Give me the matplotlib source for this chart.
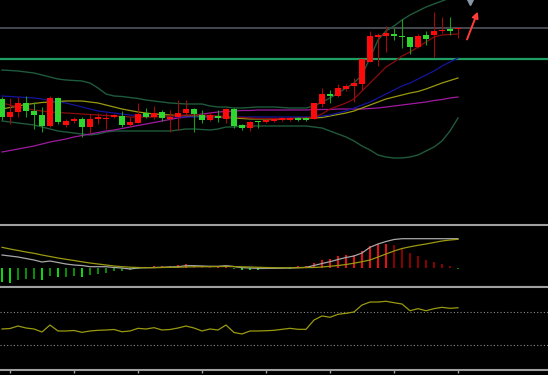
import numpy as np
import matplotlib
matplotlib.use("Agg")
import matplotlib.pyplot as plt
from matplotlib.patches import Rectangle

# ---- daily candles (price units) ----
opens = [15.1, 13.3, 13.8, 14.7, 13.9, 13.5, 12.4, 15.2, 12.5, 12.9,
         13.1, 12.3, 13.1, 13.1, 13.3, 13.4, 12.5, 12.7, 13.7, 13.3,
         13.8, 13.1, 13.3, 13.7, 14.1, 13.5, 13.0, 13.4, 13.1, 14.1,
         12.5, 12.2, 12.9, 12.8, 12.9, 13.0, 13.0, 13.2, 13.2, 13.1,
         14.6, 15.6, 15.4, 16.1, 16.4, 16.6, 18.8, 21.3, 21.4, 21.6,
         21.4, 21.3, 20.3, 21.5, 21.5, 21.9, 22.1, 22.1]
highs = [15.3, 15.2, 15.3, 15.4, 14.8, 14.3, 15.4, 15.3, 13.1, 13.3,
         13.3, 13.6, 13.7, 13.7, 13.6, 13.9, 13.3, 14.7, 14.2, 14.4,
         14.0, 14.0, 15.0, 15.0, 14.2, 14.0, 13.8, 14.0, 14.2, 14.2,
         12.6, 12.9, 12.9, 13.1, 13.2, 13.3, 13.3, 13.3, 13.3, 14.7,
         16.2, 16.0, 16.6, 16.6, 17.2, 19.1, 21.9, 21.7, 22.4, 22.2,
         23.1, 21.3, 21.6, 21.9, 23.8, 23.3, 23.3, 22.2]
lows = [13.0, 12.6, 13.3, 13.3, 12.1, 11.8, 12.3, 12.6, 12.3, 12.7,
        11.3, 11.7, 12.6, 12.1, 13.2, 12.3, 12.4, 12.7, 13.2, 13.1,
        12.9, 11.8, 12.0, 13.5, 11.8, 12.7, 12.9, 12.8, 12.7, 12.2,
        12.0, 11.9, 12.2, 12.7, 12.8, 12.9, 12.9, 12.9, 12.9, 13.1,
        14.3, 14.7, 15.3, 15.9, 14.8, 16.0, 18.8, 18.4, 19.8, 21.0,
        20.2, 19.6, 20.2, 20.5, 19.3, 21.7, 21.5, 21.2]
closes = [13.3, 13.8, 14.7, 13.9, 13.5, 12.4, 15.2, 12.8, 12.9, 13.1,
          12.3, 13.1, 13.3, 13.2, 13.5, 12.5, 12.8, 13.6, 13.3, 13.7,
          13.2, 13.3, 13.7, 14.1, 13.6, 13.0, 13.5, 13.2, 14.1, 12.4,
          12.2, 12.8, 12.8, 13.0, 13.1, 13.2, 13.2, 13.0, 13.0, 14.7,
          15.6, 15.4, 16.2, 16.4, 16.7, 19.1, 21.4, 21.5, 21.7, 21.4,
          21.3, 20.3, 21.4, 21.1, 21.9, 22.0, 21.9, 22.2]

# ---- overlays on the price panel ----
boll_upper = [18.0, 17.95, 17.9, 17.8, 17.7, 17.5, 17.3, 17.1, 17.0, 16.95,
              16.9, 16.7, 16.2, 15.6, 15.4, 15.35, 15.25, 15.15, 15.0, 14.9,
              14.8, 14.7, 14.65, 14.6, 14.6, 14.6, 14.4, 14.3, 14.3, 14.2,
              14.2, 14.25, 14.3, 14.3, 14.3, 14.25, 14.2, 14.2, 14.2, 14.4,
              14.8, 15.2, 15.7, 16.2, 16.7, 17.5, 19.2, 21.0, 21.9, 22.4,
              23.0, 23.5, 23.9, 24.3, 24.6, 24.9, 25.2, 25.5]
boll_lower = [12.9, 12.8, 12.7, 12.6, 12.5, 12.3, 12.1, 11.9, 11.8, 11.7,
              11.6, 11.5, 11.6, 11.8, 11.9, 11.9, 11.9, 11.9, 11.9, 11.9,
              11.9, 11.9, 12.0, 12.1, 12.1, 12.05, 12.0, 12.1, 12.3, 12.3,
              12.4, 12.4, 12.4, 12.4, 12.4, 12.4, 12.4, 12.4, 12.4, 12.3,
              12.2, 11.9, 11.6, 11.3, 10.9, 10.4, 10.0, 9.5, 9.3, 9.2,
              9.2, 9.3, 9.5, 9.9, 10.3, 10.9, 11.9, 13.2]
ma5 = [14.7, 14.5, 14.3, 14.15, 14.0, 13.9, 13.8, 13.75, 13.7, 13.65,
       13.6, 13.55, 13.5, 13.45, 13.4, 13.35, 13.3, 13.3, 13.3, 13.3,
       13.35, 13.4, 13.45, 13.5, 13.5, 13.5, 13.45, 13.4, 13.35, 13.3,
       13.25, 13.2, 13.15, 13.15, 13.15, 13.15, 13.15, 13.15, 13.2, 13.3,
       13.6, 14.1, 14.4, 14.7, 15.1, 15.9, 16.7, 17.5, 18.3, 18.8,
       19.4, 19.8, 20.3, 20.8, 21.3, 21.5, 21.55, 21.6]
ma10 = [15.4, 15.35, 15.3, 15.25, 15.2, 15.1, 14.95, 14.8, 14.7, 14.5,
        14.3, 14.1, 13.9, 13.8, 13.7, 13.6, 13.5, 13.45, 13.4, 13.4,
        13.35, 13.3, 13.3, 13.3, 13.3, 13.3, 13.3, 13.3, 13.3, 13.3,
        13.3, 13.3, 13.3, 13.3, 13.3, 13.3, 13.3, 13.3, 13.3, 13.3,
        13.4, 13.5, 13.7, 13.9, 14.2, 14.5, 14.8, 15.2, 15.6, 16.0,
        16.4, 16.7, 17.1, 17.5, 17.9, 18.4, 18.8, 19.2]
ma20 = [14.1, 14.25, 14.4, 14.55, 14.65, 14.75, 14.8, 14.85, 14.9, 14.9,
        14.9, 14.8, 14.7, 14.5, 14.3, 14.1, 13.95, 13.8, 13.7, 13.6,
        13.55, 13.5, 13.45, 13.4, 13.4, 13.35, 13.3, 13.3, 13.25, 13.2,
        13.15, 13.1, 13.1, 13.1, 13.1, 13.1, 13.15, 13.2, 13.2, 13.2,
        13.25, 13.4, 13.55, 13.7, 13.9, 14.2, 14.5, 14.8, 15.1, 15.3,
        15.5, 15.7, 15.85, 16.1, 16.4, 16.7, 16.95, 17.2]
ma60 = [9.8, 9.95, 10.1, 10.25, 10.4, 10.6, 10.8, 10.95, 11.1, 11.3,
        11.45, 11.6, 11.75, 11.9, 12.0, 12.15, 12.3, 12.45, 12.6, 12.75,
        12.9, 13.05, 13.2, 13.3, 13.45, 13.6, 13.7, 13.8, 13.85, 13.9,
        13.95, 13.95, 14.0, 14.0, 14.0, 14.0, 14.0, 14.0, 14.0, 14.05,
        14.05, 14.05, 14.1, 14.1, 14.1, 14.1, 14.15, 14.2, 14.3, 14.4,
        14.5, 14.6, 14.7, 14.8, 14.95, 15.05, 15.2, 15.3]

resistance = 22.2
support = 19.1

# ---- MACD panel ----
macd_hist = [-0.140, -0.150, -0.117, -0.110, -0.107, -0.123, -0.080, -0.090, -0.088, -0.083,
             -0.093, -0.073, -0.057, -0.047, -0.033, -0.032, -0.023, -0.010, 0.010, 0.020,
             0.020, 0.020, 0.030, 0.040, 0.030, 0.020, 0.010, 0.010, 0.020, -0.005,
             -0.020, -0.020, -0.020, -0.010, -0.010, -0.005, -0.005, 0.020, 0.020, 0.050,
             0.077, 0.093, 0.117, 0.127, 0.128, 0.167, 0.217, 0.237, 0.243, 0.227,
             0.193, 0.150, 0.117, 0.077, 0.060, 0.037, 0.020, -0.005]
dif = [0.130, 0.120, 0.110, 0.095, 0.080, 0.060, 0.070, 0.055, 0.040, 0.030,
       0.025, 0.013, 0.013, 0.013, 0.005, 0.000, -0.010, 0.000, 0.003, 0.005,
       0.007, 0.010, 0.013, 0.023, 0.023, 0.020, 0.017, 0.017, 0.023, 0.015,
       0.003, 0.000, -0.003, -0.003, -0.003, -0.002, 0.000, 0.003, 0.007, 0.025,
       0.045, 0.063, 0.085, 0.105, 0.120, 0.150, 0.207, 0.240, 0.265, 0.285,
       0.293, 0.293, 0.293, 0.293, 0.293, 0.293, 0.293, 0.293]
dea = [0.207, 0.190, 0.175, 0.160, 0.147, 0.130, 0.115, 0.100, 0.087, 0.075,
       0.062, 0.050, 0.040, 0.030, 0.020, 0.013, 0.008, 0.005, 0.003, 0.003,
       0.005, 0.007, 0.008, 0.010, 0.012, 0.013, 0.013, 0.014, 0.015, 0.014,
       0.012, 0.010, 0.007, 0.005, 0.003, 0.002, 0.002, 0.003, 0.004, 0.005,
       0.010, 0.017, 0.025, 0.035, 0.048, 0.063, 0.080, 0.110, 0.140, 0.170,
       0.195, 0.212, 0.227, 0.240, 0.255, 0.270, 0.280, 0.287]

# ---- RSI panel ----
rsi = [49.4, 50.0, 53.0, 50.6, 49.4, 45.8, 54.2, 47.0, 47.0, 47.6,
       45.4, 47.0, 47.8, 48.2, 48.8, 46.1, 47.0, 50.2, 49.4, 51.0,
       48.2, 48.8, 50.6, 53.0, 50.6, 47.0, 49.4, 48.2, 54.2, 45.2,
       43.4, 47.0, 47.0, 47.3, 47.8, 49.0, 50.2, 49.0, 49.0, 60.2,
       65.1, 63.5, 67.1, 68.3, 69.9, 78.3, 81.9, 81.9, 82.8, 81.1,
       79.5, 71.4, 73.9, 71.4, 73.9, 75.5, 74.3, 75.0]
rsi_levels = [70, 30]

n = len(closes)
x = np.arange(n)
xlim = (-0.25, 68.25)

fig = plt.figure(figsize=(5.48, 3.75), dpi=100, facecolor="black")
ax = fig.add_axes([0, 0.4, 1, 0.6])
ax_macd = fig.add_axes([0, 1 - 287 / 375, 1, 62 / 375])
ax_rsi = fig.add_axes([0, 1 - 370 / 375, 1, 83 / 375])

for a in (ax, ax_macd, ax_rsi):
    a.set_facecolor("black")
    a.set_xlim(*xlim)
    a.set_xticks([])
    a.set_yticks([])
    for s in a.spines.values():
        s.set_visible(False)

# price panel
ax.set_ylim(2.5, 25)
ax.axhline(resistance, color="#4b4e56", lw=1.3, zorder=1)
ax.axhline(support, color="#1f9e62", lw=1.6, zorder=1)
ax.plot(x, boll_upper, color="#1f5a3c", lw=1.0, zorder=2)
ax.plot(x, boll_lower, color="#1f5a3c", lw=1.0, zorder=2)
ax.plot(x, ma60, color="#a01aa0", lw=0.9, zorder=2)
ax.plot(x, ma20, color="#9a9a10", lw=0.9, zorder=2)
ax.plot(x, ma10, color="#1414a0", lw=0.9, zorder=2)
ax.plot(x, ma5, color="#8c0c0c", lw=0.9, zorder=2)

body_w = 0.75
for i in range(n):
    up = closes[i] >= opens[i]
    body_c = "#ff0a0a" if up else "#2fd62f"
    wick_c = "#a00a0a" if up else "#1c9c1c"
    ax.vlines(x[i], lows[i], highs[i], color=wick_c, lw=0.8, zorder=3)
    lo = min(opens[i], closes[i])
    h = max(abs(closes[i] - opens[i]), 0.1)
    ax.add_patch(Rectangle((x[i] - body_w / 2, lo), body_w, h,
                           facecolor=body_c, edgecolor="none", zorder=4))

# signal arrow and marker at the top right
ax.annotate("", xy=(59.6, 24.1), xytext=(58.0, 20.8),
            arrowprops=dict(arrowstyle="-|>", color="#ff3c3c", lw=1.4,
                            mutation_scale=9), zorder=5)
ax.plot(58.5, 24.95, marker="v", color="#8a96a8", ms=6, zorder=5)

# MACD panel
ax_macd.set_ylim(-0.19, 0.43)
for side in ("top", "bottom"):
    ax_macd.spines[side].set_visible(True)
    ax_macd.spines[side].set_color("#a0a0a0")
    ax_macd.spines[side].set_linewidth(1.5)
colors = []
for i, h in enumerate(macd_hist):
    growing = i == 0 or abs(h) >= abs(macd_hist[i - 1])
    if h >= 0:
        colors.append("#ff1010" if growing else "#960000")
    else:
        colors.append("#10ee10" if growing else "#0a9a0a")
ax_macd.vlines(x, 0, macd_hist, colors=colors, lw=1.3)
ax_macd.plot(x, dif, color="#a8a8a8", lw=0.9)
ax_macd.plot(x, dea, color="#9a9a10", lw=0.9)

# RSI panel
ax_rsi.set_ylim(0, 100)
for side in ("top", "bottom"):
    ax_rsi.spines[side].set_visible(True)
    ax_rsi.spines[side].set_color("#a0a0a0")
    ax_rsi.spines[side].set_linewidth(1.5)
for lvl in rsi_levels:
    ax_rsi.axhline(lvl, color="#8c8c8c", lw=0.8, linestyle=(0, (1, 2)))
ax_rsi.plot(x, rsi, color="#9a9a10", lw=0.9)
ax_rsi.set_xticks(np.arange(1, n, 8))
ax_rsi.set_xticklabels([])
ax_rsi.tick_params(axis="x", colors="#a0a0a0", length=2, width=1, direction="out")

fig.savefig("out.png", dpi=100, facecolor="black")
